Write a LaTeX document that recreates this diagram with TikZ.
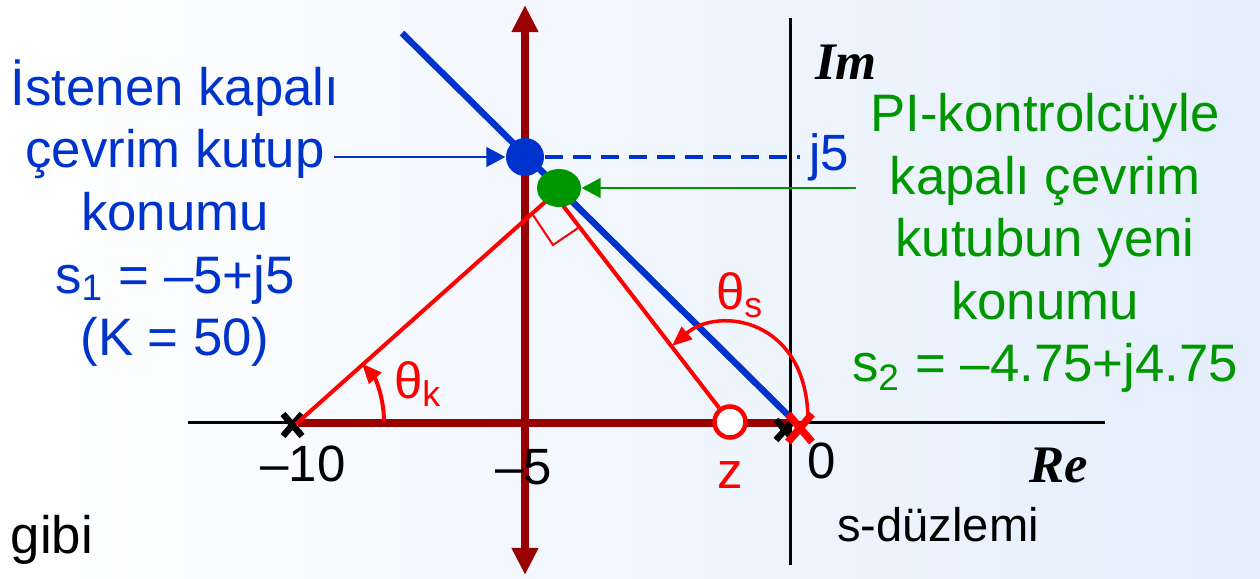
\documentclass[tikz,border=0pt]{standalone}
\usepackage{fontspec}
\setmainfont{Liberation Sans}
\newfontfamily\axfont{Liberation Serif}
\usetikzlibrary{arrows.meta,shapes.geometric}
\definecolor{kblue}{RGB}{0,51,204}
\definecolor{kgreen}{RGB}{0,150,0}
\definecolor{kdred}{RGB}{153,0,0}
\definecolor{kred}{RGB}{255,0,0}
\definecolor{kbg}{RGB}{228,238,252}
\begin{document}
\begin{tikzpicture}[x=0.01cm, y=-0.01cm,
    every node/.style={font=\fontsize{14.5}{17.6}\selectfont, inner sep=0pt},
    txt/.style={align=center, font=\fontsize{15}{17.8}\selectfont},
    axis/.style={black, line width=0.03cm},
    locus/.style={kdred, line width=0.085cm},
    tip/.style={-{Triangle[length=0.19cm, width=0.2cm]}},
    xmark/.style={line width=0.065cm, line cap=butt},
    axlbl/.style={font=\fontsize{15}{17}\axfont\bfseries\itshape}]
    \useasboundingbox (0,0) rectangle (1260,578);
    \shade[left color=white, right color=kbg] (0,0) rectangle (1260,578);

    % s-plane axes
    \draw[axis] (188,422) -- (1105,422);
    \draw[axis] (790,18) -- (790,565);

    % root locus of the uncompensated system
    \draw[locus] (298,423) -- (790,423);
    \draw[locus, {Triangle[length=0.27cm, width=0.25cm]}-{Triangle[length=0.27cm, width=0.25cm]}] (525,5) -- (525,575);

    % zeta line
    \draw[kblue, line width=0.065cm] (402,33) -- (795,422);

    % open-loop poles and the zero
    \coordinate (p10) at (296,424);
    \coordinate (p0) at (800,428);
    \node[draw=kred, fill=white, circle, line width=0.045cm, minimum size=0.31cm] (z) at (730,422) {};
    \draw[xmark] (283,414) -- (302,436) (302,414) -- (283,436);
    \draw[xmark] (776,420) -- (794,440) (794,420) -- (776,440);
    \draw[xmark, kred, line width=0.075cm] (788,414) -- (812,442) (812,414) -- (788,442);

    % angles from the new pole
    \coordinate (v) at (554,194);
    \draw[kred, line width=0.04cm] (p10) -- (v) -- (z);
    \draw[kred, line width=0.02cm] (533,215) -- (553,245) -- (578,228);

    % closed-loop poles
    \node[circle, fill=kblue, minimum size=0.38cm] (s1) at (525,157) {};
    \node[ellipse, fill=kgreen, minimum width=0.44cm, minimum height=0.38cm] (s2) at (559,188) {};
    \draw[kblue, line width=0.04cm, dash pattern=on 0.18cm off 0.1cm] (s1) -- (800,157);
    \node[kblue] (j5) at (829,157) {j5};

    % pointers to the poles
    \coordinate (a1) at (334,157);
    \coordinate (a2) at (856,188);
    \draw[kblue, line width=0.015cm, tip] (a1) -- (s1);
    \draw[kgreen, line width=0.015cm, tip] (a2) -- (s2);

    % angle arcs
    \draw[kred, line width=0.04cm, -{Triangle[length=0.2cm, width=0.16cm]}] (384,421) arc[start angle=0, end angle=-42, radius=86];
    \draw[kred, line width=0.035cm, -{Triangle[length=0.2cm, width=0.16cm]}] (808,418) .. controls (806,318) and (718,306) .. (672,346);
    \node[kred] (tk) at (418,384) {θ\textsubscript{k}};
    \node[kred] (ts) at (740,295) {θ\textsubscript{s}};

    % axis labels
    \node (l10) at (303,464) {–10};
    \node (l5) at (524,467) {–5};
    \node (l0) at (822,461) {0};
    \node[kred] (lz) at (730,475) {z};
    \node[axlbl] (im) at (846,62) {Im};
    \node[axlbl] (re) at (1059,465) {Re};

    % descriptions
    \node[txt, kblue] (t1) at (175,213) {İstenen kapalı\\çevrim kutup\\konumu\\s\textsubscript{1} = –5+j5\\(K = 50)};
    \node[txt, kgreen] (t2) at (1045,243) {PI-kontrolcüyle\\kapalı çevrim\\kutubun yeni\\konumu\\s\textsubscript{2} = –4.75+j4.75};
    \node[font=\fontsize{15}{17}\selectfont] (gibi) at (52,540) {gibi};
    \node[font=\fontsize{13.4}{15}\selectfont] (sd) at (938,525) {s-düzlemi};
\end{tikzpicture}
\end{document}
